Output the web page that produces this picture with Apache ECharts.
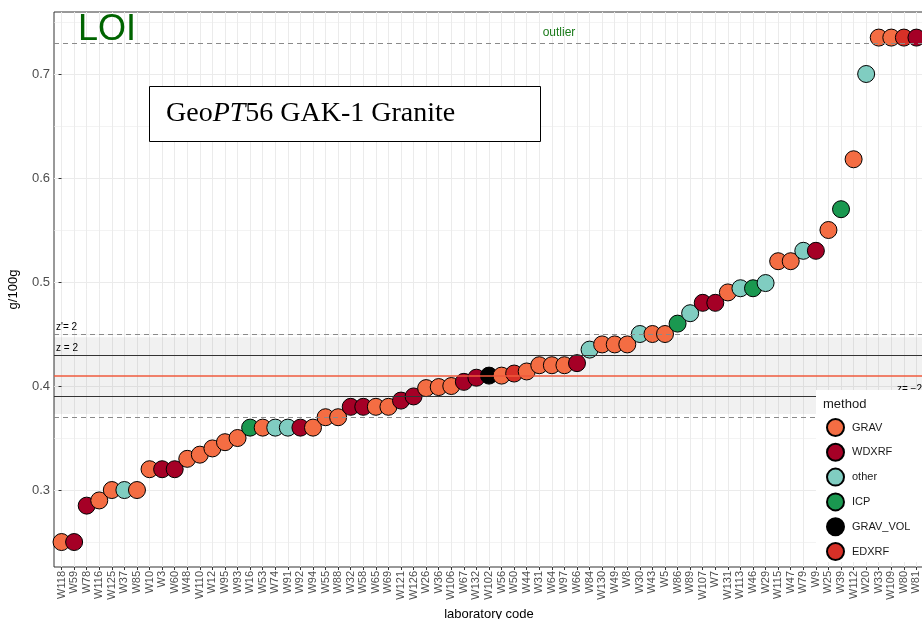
<!DOCTYPE html>
<html>
<head>
<meta charset="utf-8">
<title>GeoPT56 LOI</title>
<script src="https://cdn.jsdelivr.net/npm/echarts@6/dist/echarts.min.js"></script>
<style>
  html, body { margin: 0; padding: 0; background: #fff; }
  #chart { width: 922px; height: 619px; }
</style>
</head>
<body>
<div id="chart"></div>
<script>
// laboratory codes, in the order of the x axis (sorted by result)
const labCodes = ['W118','W59','W78','W116','W125','W37','W85','W10','W3','W60',
  'W48','W110','W12','W95','W93','W16','W53','W74','W91','W92',
  'W94','W55','W88','W32','W58','W65','W69','W121','W126','W26',
  'W36','W106','W67','W132','W102','W56','W50','W44','W31','W64',
  'W97','W66','W84','W130','W49','W8','W30','W43','W5','W86',
  'W89','W107','W7','W131','W113','W46','W29','W115','W47','W79',
  'W9','W25','W39','W112','W20','W33','W109','W80','W81'];
// reported LOI, g/100g (outliers drawn at the cap)
const loiValues = [0.25,0.25,0.285,0.29,0.30,0.30,0.30,0.32,0.32,0.32,
  0.33,0.334,0.34,0.346,0.35,0.36,0.36,0.36,0.36,0.36,
  0.36,0.37,0.37,0.38,0.38,0.38,0.38,0.386,0.39,0.398,
  0.399,0.40,0.404,0.408,0.41,0.41,0.412,0.414,0.42,0.42,
  0.42,0.422,0.435,0.44,0.44,0.44,0.45,0.45,0.45,0.46,
  0.47,0.48,0.48,0.49,0.494,0.494,0.499,0.52,0.52,0.53,
  0.53,0.55,0.57,0.618,0.70,0.735,0.735,0.735,0.735];
const labMethods = ['GRAV','WDXRF','WDXRF','GRAV','GRAV','other','GRAV','GRAV','WDXRF','WDXRF',
  'GRAV','GRAV','GRAV','GRAV','GRAV','ICP','GRAV','other','other','WDXRF',
  'GRAV','GRAV','GRAV','WDXRF','WDXRF','GRAV','GRAV','WDXRF','WDXRF','GRAV',
  'GRAV','GRAV','WDXRF','WDXRF','GRAV_VOL','GRAV','EDXRF','GRAV','GRAV','GRAV',
  'GRAV','WDXRF','other','GRAV','GRAV','GRAV','other','GRAV','GRAV','ICP',
  'other','WDXRF','WDXRF','GRAV','other','ICP','other','GRAV','GRAV','other',
  'WDXRF','GRAV','ICP','GRAV','other','GRAV','GRAV','EDXRF','WDXRF'];
const methodNames = ['GRAV','WDXRF','other','ICP','GRAV_VOL','EDXRF'];
const methodColors = ['#f46d43','#a50026','#80cdc1','#1a9850','#000000','#d73027'];

// assigned value and z-score limits
const assignedValue = 0.41;
const zLimits = [0.391, 0.43];
const zPrimeLimits = [0.373, 0.447];
const outlierLevel = 0.732;

// tick positions
const yMajorTicks = [0.3, 0.4, 0.5, 0.6, 0.7];
const yMinorTicks = [0.25, 0.35, 0.45, 0.55, 0.65, 0.75];
const xTicks = labCodes.map((c, i) => i);

const chart = echarts.init(document.getElementById('chart'));
const font = 'Liberation Sans, Arial, sans-serif';

// one series for the points so later labs sit on top of earlier ones
const pointData = labCodes.map((c, i) => ({
  value: [i, loiValues[i]],
  itemStyle: { color: methodColors[methodNames.indexOf(labMethods[i])] }
}));

// empty series, only for the legend
const legendSeries = methodNames.map((m, k) => ({
  name: m,
  type: 'scatter',
  data: [],
  itemStyle: { color: methodColors[k], borderColor: '#000', borderWidth: 1, opacity: 1 }
}));

const dashed = { color: '#8a8a8a', type: [5, 4], width: 1.2 };
const solid = { color: '#333', type: 'solid', width: 1 };
const lineLabel = (txt, pos) => ({
  show: true, formatter: txt, position: pos,
  color: '#000', fontSize: 10, fontFamily: font, distance: 2
});

const option = {
  animation: false,
  grid: { left: 54, top: 12, width: 870, height: 555, show: true, borderColor: '#333', borderWidth: 1,
    containLabel: false, outerBoundsMode: 'none' },
  xAxis: {
    type: 'value', min: -0.6, max: 68.6,
    name: 'laboratory code', nameLocation: 'middle', nameGap: 40,
    nameTextStyle: { fontSize: 13, color: '#000', fontFamily: font },
    axisLine: { show: false },
    axisTick: { show: true, length: 3, customValues: xTicks, lineStyle: { color: '#333' } },
    axisLabel: {
      customValues: xTicks, rotate: 90, fontSize: 11, color: '#4d4d4d', fontFamily: font, margin: 4,
      formatter: v => labCodes[v]
    },
    splitLine: { show: true, lineStyle: { color: '#ebebeb', width: 1 } }
  },
  yAxis: [{
    type: 'value', min: 0.226, max: 0.7596,
    name: 'g/100g', nameLocation: 'middle', nameGap: 34,
    nameTextStyle: { fontSize: 13, color: '#000', fontFamily: font },
    axisLine: { show: false },
    axisTick: { show: true, length: 3, customValues: yMajorTicks, lineStyle: { color: '#333' } },
    axisLabel: { customValues: yMajorTicks, fontSize: 13, color: '#4d4d4d', fontFamily: font, margin: 4,
      formatter: v => v.toFixed(1) },
    splitLine: { show: true, lineStyle: { color: '#ebebeb', width: 1 } }
  }, {
    type: 'value', min: 0.226, max: 0.7596,
    axisLine: { show: false },
    axisTick: { show: false, customValues: yMinorTicks },
    axisLabel: { show: false },
    splitLine: { show: true, lineStyle: { color: '#ebebeb', width: 0.6 } }
  }],
  legend: {
    data: methodNames, orient: 'vertical', left: 826, top: 418, z: 101,
    icon: 'circle', itemWidth: 17, itemHeight: 17, itemGap: 5.8, padding: 0,
    textStyle: { fontSize: 11, color: '#1a1a1a', fontFamily: font, padding: [0, 0, 0, 3] }
  },
  series: [{
    // z-score band and reference lines
    type: 'line', data: [], z: 1, silent: true,
    markArea: {
      silent: true,
      itemStyle: { color: 'rgba(0,0,0,0.055)' },
      data: [[{ yAxis: zPrimeLimits[0] }, { yAxis: zPrimeLimits[1] }]]
    },
    markLine: {
      silent: true, symbol: 'none',
      data: [
        { yAxis: zPrimeLimits[1], lineStyle: dashed, label: lineLabel("z'= 2", 'insideStartTop') },
        { yAxis: zLimits[1], lineStyle: solid, label: lineLabel('z = 2', 'insideStartTop') },
        { yAxis: assignedValue, lineStyle: { color: '#ef5a3c', type: 'solid', width: 1.5 }, label: { show: false } },
        { yAxis: zLimits[0], lineStyle: solid, label: lineLabel('z= \u22122', 'insideEndTop') },
        { yAxis: zPrimeLimits[0], lineStyle: dashed, label: lineLabel("z'= \u22122", 'insideEndTop') },
        { yAxis: outlierLevel, lineStyle: dashed, label: { show: false } }
      ]
    }
  }, {
    type: 'scatter', z: 3, symbolSize: 17,
    itemStyle: { borderColor: '#000', borderWidth: 1, opacity: 1 },
    data: pointData
  }].concat(legendSeries),
  graphic: [
    { type: 'text', left: 78, top: 12, z: 50,
      style: { text: 'LOI', fontSize: 36, fill: '#006400', fontFamily: font } },
    { type: 'text', x: 559, y: 33, z: 50,
      style: { text: 'outlier', fontSize: 12, fill: '#1a7a1a', fontFamily: font, align: 'center', verticalAlign: 'middle' } },
    { type: 'rect', z: 50, shape: { x: 149.5, y: 86.5, width: 391, height: 55 },
      style: { fill: '#fff', stroke: '#000', lineWidth: 1 } },
    { type: 'text', x: 166, y: 114, z: 51,
      style: {
        text: 'Geo{i|PT}56 GAK-1 Granite', fontSize: 28, fill: '#000',
        fontFamily: 'Liberation Serif, Times New Roman, serif', verticalAlign: 'middle',
        rich: { i: { fontStyle: 'italic', fontSize: 28, fontFamily: 'Liberation Serif, Times New Roman, serif' } }
      } },
    // legend background and title
    { type: 'rect', z: 100, shape: { x: 816, y: 390, width: 110, height: 172 },
      style: { fill: '#fff' } },
    { type: 'text', x: 823, y: 404, z: 101,
      style: { text: 'method', fontSize: 13, fill: '#1a1a1a', fontFamily: font, verticalAlign: 'middle' } }
  ]
};

chart.setOption(option);
</script>
</body>
</html>
